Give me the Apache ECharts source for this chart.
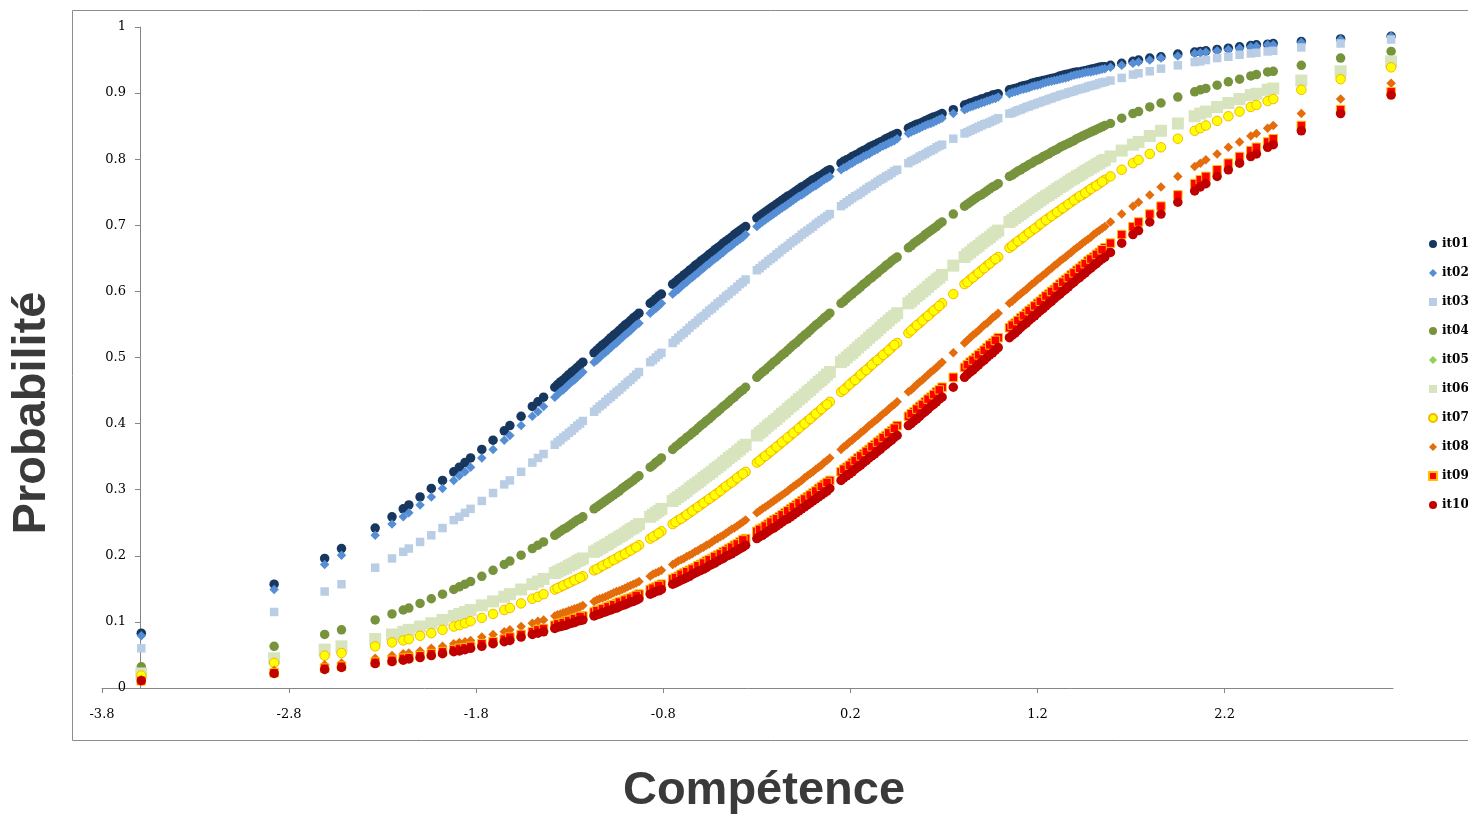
<!DOCTYPE html>
<html>
<head>
<meta charset="utf-8">
<title>Probabilité / Compétence</title>
<script src="https://cdn.jsdelivr.net/npm/echarts@6/dist/echarts.min.js"></script>
<style>
html,body{margin:0;padding:0;background:#ffffff;}
#chart{width:1468px;height:815px;}
</style>
</head>
<body>
<div id="chart"></div>
<script>
// ---- data ----
const competence = [
  -3.59,-2.88,-2.61,-2.52,-2.34,-2.25,-2.19,-2.16,-2.1,-2.04,-1.98,-1.92,-1.89,-1.86,-1.83,-1.77,-1.71,-1.65,-1.62,-1.56,-1.5,-1.47,
  -1.44,-1.38,-1.35,-1.32,-1.29,-1.26,-1.23,-1.17,-1.14,-1.11,-1.08,-1.05,-1.02,-0.99,-0.96,-0.93,-0.87,-0.84,-0.81,-0.75,
  -0.72,-0.69,-0.66,-0.63,-0.6,-0.57,-0.54,-0.51,-0.48,-0.45,-0.42,-0.39,-0.36,-0.3,-0.27,-0.24,-0.21,-0.18,-0.15,-0.12,
  -0.09,-0.06,-0.03,0,0.03,0.06,0.09,0.15,0.18,0.21,0.24,0.27,0.3,0.33,0.36,0.39,0.42,0.45,0.51,0.54,
  0.57,0.6,0.63,0.66,0.69,0.75,0.81,0.84,0.87,0.9,0.93,0.96,0.99,1.05,1.08,1.11,1.14,1.17,1.2,1.23,
  1.26,1.29,1.32,1.35,1.38,1.41,1.44,1.47,1.5,1.53,1.56,
  1.59,1.65,1.71,1.74,1.8,1.86,1.95,2.04,2.07,2.1,2.16,2.22,2.28,2.34,2.37,2.43,2.46,2.61,2.82,3.09
];

const it01 = [
  .083,.157,.196,.211,.242,.259,.271,.277,.289,.302,.314,.327,.334,.341,.348,.361,.375,.389,.397,.411,.426,.433,
  .440,.455,.463,.470,.478,.485,.493,.507,.515,.522,.530,.537,.545,.552,.560,.567,.582,.589,.596,.611,
  .618,.625,.632,.639,.646,.652,.659,.666,.673,.679,.686,.692,.698,.711,.717,.723,.729,.735,.741,.746,
  .752,.758,.763,.769,.774,.779,.784,.794,.799,.804,.808,.813,.818,.822,.826,.831,.835,.839,.847,.851,
  .854,.858,.862,.865,.869,.875,.882,.885,.888,.891,.894,.897,.899,.905,.907,.910,.912,.915,.917,.919,
  .921,.923,.926,.928,.930,.932,.933,.935,.937,.939,.940,
  .942,.945,.948,.950,.953,.955,.959,.962,.963,.964,.966,.968,.970,.972,.973,.974,.975,.978,.982,.986
];
const it02 = [
  .079,.149,.187,.201,.231,.248,.259,.265,.277,.289,.302,.314,.321,.327,.334,.348,.361,.375,.382,.397,.411,.418,
  .426,.440,.448,.455,.463,.470,.478,.493,.500,.507,.515,.522,.530,.537,.545,.552,.567,.574,.582,.596,
  .603,.611,.618,.625,.632,.639,.646,.652,.659,.666,.673,.679,.686,.698,.705,.711,.717,.723,.729,.735,
  .741,.746,.752,.758,.763,.769,.774,.784,.789,.794,.799,.804,.808,.813,.818,.822,.826,.831,.839,.843,
  .847,.851,.854,.858,.862,.869,.875,.879,.882,.885,.888,.891,.894,.899,.902,.905,.907,.910,.912,.915,
  .917,.919,.921,.923,.926,.928,.930,.932,.933,.935,.937,
  .939,.942,.945,.947,.950,.953,.956,.960,.961,.962,.964,.966,.968,.970,.971,.973,.973,.977,.981,.986
];
const it03 = [
  .060,.115,.146,.157,.182,.196,.206,.211,.221,.231,.242,.254,.259,.265,.271,.283,.295,.308,.314,.327,.341,.348,
  .354,.368,.375,.382,.389,.397,.404,.418,.426,.433,.440,.448,.455,.463,.470,.478,.493,.500,.507,.522,
  .530,.537,.545,.552,.560,.567,.574,.582,.589,.596,.603,.611,.618,.632,.639,.646,.652,.659,.666,.673,
  .679,.686,.692,.698,.705,.711,.717,.729,.735,.741,.746,.752,.758,.763,.769,.774,.779,.784,.794,.799,
  .804,.808,.813,.818,.822,.831,.839,.843,.847,.851,.854,.858,.862,.869,.872,.875,.879,.882,.885,.888,
  .891,.894,.897,.899,.902,.905,.907,.910,.912,.915,.917,
  .919,.923,.928,.930,.933,.937,.942,.947,.948,.950,.953,.955,.958,.960,.961,.963,.964,.969,.975,.981
];
const it04 = [
  .032,.063,.081,.088,.103,.112,.118,.121,.128,.135,.142,.149,.153,.157,.161,.169,.178,.187,.192,.201,.211,.216,
  .221,.231,.237,.242,.248,.254,.259,.271,.277,.283,.289,.295,.302,.308,.314,.321,.334,.341,.348,.361,
  .368,.375,.382,.389,.397,.404,.411,.418,.426,.433,.440,.448,.455,.470,.478,.485,.493,.500,.507,.515,
  .522,.530,.537,.545,.552,.560,.567,.582,.589,.596,.603,.611,.618,.625,.632,.639,.646,.652,.666,.673,
  .679,.686,.692,.698,.705,.717,.729,.735,.741,.746,.752,.758,.763,.774,.779,.784,.789,.794,.799,.804,
  .808,.813,.818,.822,.826,.831,.835,.839,.843,.847,.851,
  .854,.862,.869,.872,.879,.885,.894,.902,.905,.907,.912,.917,.921,.926,.928,.932,.933,.942,.953,.963
];
const it05 = [
  .022,.045,.058,.063,.074,.081,.085,.088,.093,.098,.103,.109,.112,.115,.118,.125,.131,.138,.142,.149,.157,.161,
  .165,.174,.178,.182,.187,.192,.196,.206,.211,.216,.221,.226,.231,.237,.242,.248,.259,.265,.271,.283,
  .289,.295,.302,.308,.314,.321,.327,.334,.341,.348,.354,.361,.368,.382,.389,.397,.404,.411,.418,.426,
  .433,.440,.448,.455,.463,.470,.478,.493,.500,.507,.515,.522,.530,.537,.545,.552,.560,.567,.582,.589,
  .596,.603,.611,.618,.625,.639,.652,.659,.666,.673,.679,.686,.692,.705,.711,.717,.723,.729,.735,.741,
  .746,.752,.758,.763,.769,.774,.779,.784,.789,.794,.799,
  .804,.813,.822,.826,.835,.843,.854,.865,.869,.872,.879,.885,.891,.897,.899,.905,.907,.919,.933,.948
];
const it06 = [
  .022,.045,.058,.063,.074,.081,.085,.088,.093,.098,.103,.109,.112,.115,.118,.125,.131,.138,.142,.149,.157,.161,
  .165,.174,.178,.182,.187,.192,.196,.206,.211,.216,.221,.226,.231,.237,.242,.248,.259,.265,.271,.283,
  .289,.295,.302,.308,.314,.321,.327,.334,.341,.348,.354,.361,.368,.382,.389,.397,.404,.411,.418,.426,
  .433,.440,.448,.455,.463,.470,.478,.493,.500,.507,.515,.522,.530,.537,.545,.552,.560,.567,.582,.589,
  .596,.603,.611,.618,.625,.639,.652,.659,.666,.673,.679,.686,.692,.705,.711,.717,.723,.729,.735,.741,
  .746,.752,.758,.763,.769,.774,.779,.784,.789,.794,.799,
  .804,.813,.822,.826,.835,.843,.854,.865,.869,.872,.879,.885,.891,.897,.899,.905,.907,.919,.933,.948
];
const it07 = [
  .019,.038,.049,.053,.063,.069,.072,.074,.079,.083,.088,.093,.095,.098,.101,.106,.112,.118,.121,.128,.135,.138,
  .142,.149,.153,.157,.161,.165,.169,.178,.182,.187,.192,.196,.201,.206,.211,.216,.226,.231,.237,.248,
  .254,.259,.265,.271,.277,.283,.289,.295,.302,.308,.314,.321,.327,.341,.348,.354,.361,.368,.375,.382,
  .389,.397,.404,.411,.418,.426,.433,.448,.455,.463,.470,.478,.485,.493,.500,.507,.515,.522,.537,.545,
  .552,.560,.567,.574,.582,.596,.611,.618,.625,.632,.639,.646,.652,.666,.673,.679,.686,.692,.698,.705,
  .711,.717,.723,.729,.735,.741,.746,.752,.758,.763,.769,
  .774,.784,.794,.799,.808,.818,.831,.843,.847,.851,.858,.865,.872,.879,.882,.888,.891,.905,.921,.939
];
const it08 = [
  .013,.027,.035,.038,.045,.049,.052,.053,.056,.060,.063,.067,.069,.070,.072,.077,.081,.085,.088,.093,.098,.101,
  .103,.109,.112,.115,.118,.121,.125,.131,.135,.138,.142,.146,.149,.153,.157,.161,.169,.174,.178,.187,
  .192,.196,.201,.206,.211,.216,.221,.226,.231,.237,.242,.248,.254,.265,.271,.277,.283,.289,.295,.302,
  .308,.314,.321,.327,.334,.341,.348,.361,.368,.375,.382,.389,.397,.404,.411,.418,.426,.433,.448,.455,
  .463,.470,.478,.485,.493,.507,.522,.530,.537,.545,.552,.560,.567,.582,.589,.596,.603,.611,.618,.625,
  .632,.639,.646,.652,.659,.666,.673,.679,.686,.692,.698,
  .705,.717,.729,.735,.746,.758,.774,.789,.794,.799,.808,.818,.826,.835,.839,.847,.851,.869,.891,.915
];
const it09 = [
  .011,.023,.030,.033,.039,.042,.045,.046,.049,.052,.055,.058,.060,.061,.063,.067,.070,.074,.077,.081,.085,.088,
  .090,.095,.098,.101,.103,.106,.109,.115,.118,.121,.125,.128,.131,.135,.138,.142,.149,.153,.157,.165,
  .169,.174,.178,.182,.187,.192,.196,.201,.206,.211,.216,.221,.226,.237,.242,.248,.254,.259,.265,.271,
  .277,.283,.289,.295,.302,.308,.314,.327,.334,.341,.348,.354,.361,.368,.375,.382,.389,.397,.411,.418,
  .426,.433,.440,.448,.455,.470,.485,.493,.500,.507,.515,.522,.530,.545,.552,.560,.567,.574,.582,.589,
  .596,.603,.611,.618,.625,.632,.639,.646,.652,.659,.666,
  .673,.686,.698,.705,.717,.729,.746,.763,.769,.774,.784,.794,.804,.813,.818,.826,.831,.851,.875,.902
];
const it10 = [
  .011,.022,.028,.031,.037,.040,.042,.044,.046,.049,.052,.055,.056,.058,.060,.063,.067,.070,.072,.077,.081,.083,
  .085,.090,.093,.095,.098,.101,.103,.109,.112,.115,.118,.121,.125,.128,.131,.135,.142,.146,.149,.157,
  .161,.165,.169,.174,.178,.182,.187,.192,.196,.201,.206,.211,.216,.226,.231,.237,.242,.248,.254,.259,
  .265,.271,.277,.283,.289,.295,.302,.314,.321,.327,.334,.341,.348,.354,.361,.368,.375,.382,.397,.404,
  .411,.418,.426,.433,.440,.455,.470,.478,.485,.493,.500,.507,.515,.530,.537,.545,.552,.560,.567,.574,
  .582,.589,.596,.603,.611,.618,.625,.632,.639,.646,.652,
  .659,.673,.686,.692,.705,.717,.735,.752,.758,.763,.774,.784,.794,.804,.808,.818,.822,.843,.869,.897
];

// second group of respondents (the densely packed middle of the sample)
const competenceMid = [
  -1.365,-1.335,-1.305,-1.275,-1.245,
  -1.155,-1.125,-1.095,-1.065,-1.035,-1.005,-0.975,-0.945,
  -0.855,-0.825,
  -0.735,-0.705,-0.675,-0.645,-0.615,-0.585,-0.555,-0.525,-0.495,-0.465,-0.435,-0.405,-0.375,
  -0.285,-0.255,-0.225,-0.195,-0.165,-0.135,-0.105,-0.075,-0.045,-0.015,0.015,0.045,0.075,
  0.165,0.195,0.225,0.255,0.285,0.315,0.345,0.375,0.405,0.435,
  0.525,0.555,0.585,0.615,0.645,0.675,
  0.825,0.855,0.885,0.915,0.945,0.975,
  1.065,1.095,1.125,1.155,1.185,1.215,1.245,1.275,1.305,1.335,1.365,1.395,1.425,1.455,1.485,1.515,1.545
];
const it01Mid = [
  .459,.466,.474,.481,.489,
  .511,.519,.526,.534,.541,.549,.556,.563,
  .585,.593,
  .614,.621,.628,.635,.642,.649,.656,.663,.669,.676,.682,.689,.695,
  .714,.720,.726,.732,.738,.744,.749,.755,.760,.766,.771,.776,.782,
  .797,.801,.806,.811,.815,.820,.824,.828,.833,.837,
  .849,.853,.856,.860,.864,.867,
  .883,.886,.889,.892,.895,.898,
  .906,.908,.911,.913,.916,.918,.920,.922,.924,.927,.929,.931,.932,.934,.936,.938,.940
];
const it02Mid = [
  .444,.451,.459,.466,.474,
  .496,.504,.511,.519,.526,.534,.541,.549,
  .571,.578,
  .600,.607,.614,.621,.628,.635,.642,.649,.656,.663,.669,.676,.682,
  .702,.708,.714,.720,.726,.732,.738,.744,.749,.755,.760,.766,.771,
  .787,.792,.797,.801,.806,.811,.815,.820,.824,.828,
  .841,.845,.849,.853,.856,.860,
  .877,.880,.883,.886,.889,.892,
  .901,.903,.906,.908,.911,.913,.916,.918,.920,.922,.924,.927,.929,.931,.932,.934,.936
];
const it03Mid = [
  .372,.379,.386,.393,.400,
  .422,.429,.437,.444,.451,.459,.466,.474,
  .496,.504,
  .526,.534,.541,.549,.556,.563,.571,.578,.585,.593,.600,.607,.614,
  .635,.642,.649,.656,.663,.669,.676,.682,.689,.695,.702,.708,.714,
  .732,.738,.744,.749,.755,.760,.766,.771,.776,.782,
  .797,.801,.806,.811,.815,.820,
  .841,.845,.849,.853,.856,.860,
  .870,.874,.877,.880,.883,.886,.889,.892,.895,.898,.901,.903,.906,.908,.911,.913,.916
];
const it04Mid = [
  .234,.240,.245,.251,.256,
  .274,.280,.286,.292,.298,.305,.311,.318,
  .337,.344,
  .365,.372,.379,.386,.393,.400,.407,.415,.422,.429,.437,.444,.451,
  .474,.481,.489,.496,.504,.511,.519,.526,.534,.541,.549,.556,.563,
  .585,.593,.600,.607,.614,.621,.628,.635,.642,.649,
  .669,.676,.682,.689,.695,.702,
  .732,.738,.744,.749,.755,.760,
  .776,.782,.787,.792,.797,.801,.806,.811,.815,.820,.824,.828,.833,.837,.841,.845,.849
];
const it05Mid = [
  .176,.180,.185,.189,.194,
  .208,.213,.218,.224,.229,.234,.240,.245,
  .262,.268,
  .286,.292,.298,.305,.311,.318,.324,.331,.337,.344,.351,.358,.365,
  .386,.393,.400,.407,.415,.422,.429,.437,.444,.451,.459,.466,.474,
  .496,.504,.511,.519,.526,.534,.541,.549,.556,.563,
  .585,.593,.600,.607,.614,.621,
  .656,.663,.669,.676,.682,.689,
  .708,.714,.720,.726,.732,.738,.744,.749,.755,.760,.766,.771,.776,.782,.787,.792,.797
];
const it06Mid = [
  .176,.180,.185,.189,.194,
  .208,.213,.218,.224,.229,.234,.240,.245,
  .262,.268,
  .286,.292,.298,.305,.311,.318,.324,.331,.337,.344,.351,.358,.365,
  .386,.393,.400,.407,.415,.422,.429,.437,.444,.451,.459,.466,.474,
  .496,.504,.511,.519,.526,.534,.541,.549,.556,.563,
  .585,.593,.600,.607,.614,.621,
  .656,.663,.669,.676,.682,.689,
  .708,.714,.720,.726,.732,.738,.744,.749,.755,.760,.766,.771,.776,.782,.787,.792,.797
];
const it07Mid = [
  .151,.155,.159,.163,.167,
  .180,.185,.189,.194,.199,.203,.208,.213,
  .229,.234,
  .251,.256,.262,.268,.274,.280,.286,.292,.298,.305,.311,.318,.324,
  .344,.351,.358,.365,.372,.379,.386,.393,.400,.407,.415,.422,.429,
  .451,.459,.466,.474,.481,.489,.496,.504,.511,.519,
  .541,.549,.556,.563,.571,.578,
  .614,.621,.628,.635,.642,.649,
  .669,.676,.682,.689,.695,.702,.708,.714,.720,.726,.732,.738,.744,.749,.755,.760,.766
];
const it08Mid = [
  .111,.114,.117,.120,.123,
  .133,.136,.140,.144,.147,.151,.155,.159,
  .172,.176,
  .189,.194,.199,.203,.208,.213,.218,.224,.229,.234,.240,.245,.251,
  .268,.274,.280,.286,.292,.298,.305,.311,.318,.324,.331,.337,.344,
  .365,.372,.379,.386,.393,.400,.407,.415,.422,.429,
  .451,.459,.466,.474,.481,.489,
  .526,.534,.541,.549,.556,.563,
  .585,.593,.600,.607,.614,.621,.628,.635,.642,.649,.656,.663,.669,.676,.682,.689,.695
];
const it09Mid = [
  .097,.099,.102,.105,.108,
  .117,.120,.123,.126,.130,.133,.136,.140,
  .151,.155,
  .167,.172,.176,.180,.185,.189,.194,.199,.203,.208,.213,.218,.224,
  .240,.245,.251,.256,.262,.268,.274,.280,.286,.292,.298,.305,.311,
  .331,.337,.344,.351,.358,.365,.372,.379,.386,.393,
  .415,.422,.429,.437,.444,.451,
  .489,.496,.504,.511,.519,.526,
  .549,.556,.563,.571,.578,.585,.593,.600,.607,.614,.621,.628,.635,.642,.649,.656,.663
];
const it10Mid = [
  .092,.094,.097,.099,.102,
  .111,.114,.117,.120,.123,.126,.130,.133,
  .144,.147,
  .159,.163,.167,.172,.176,.180,.185,.189,.194,.199,.203,.208,.213,
  .229,.234,.240,.245,.251,.256,.262,.268,.274,.280,.286,.292,.298,
  .318,.324,.331,.337,.344,.351,.358,.365,.372,.379,
  .400,.407,.415,.422,.429,.437,
  .474,.481,.489,.496,.504,.511,
  .534,.541,.549,.556,.563,.571,.578,.585,.593,.600,.607,.614,.621,.628,.635,.642,.649
];

const seriesNames = ['it01','it02','it03','it04','it05','it06','it07','it08','it09','it10'];
const xTickValues = [-3.8,-2.8,-1.8,-0.8,0.2,1.2,2.2];
const xTickLabels = ['-3.8','-2.8','-1.8','-0.8','0.2','1.2','2.2'];
const yTickLabels = ['0','0.1','0.2','0.3','0.4','0.5','0.6','0.7','0.8','0.9','1'];
const xTitle = 'Compétence';
const yTitle = 'Probabilité';

// ---- presentation ----
const valuesByName = {it01,it02,it03,it04,it05,it06,it07,it08,it09,it10};
const midByName = {it01:it01Mid,it02:it02Mid,it03:it03Mid,it04:it04Mid,it05:it05Mid,
                   it06:it06Mid,it07:it07Mid,it08:it08Mid,it09:it09Mid,it10:it10Mid};
const styleByName = {
  it01:{symbol:'circle',  size:9.5, color:'#17375E'},
  it02:{symbol:'diamond', size:9.5, color:'#558ED5'},
  it03:{symbol:'rect',    size:8.5, color:'#B9CDE5'},
  it04:{symbol:'circle',  size:9.5, color:'#77933C'},
  it05:{symbol:'diamond', size:9.5, color:'#92D050'},
  it06:{symbol:'rect',    size:12,  color:'#D7E4BD'},
  it07:{symbol:'circle',  size:9.5, color:'#FFFF00', border:'#F5B800'},
  it08:{symbol:'diamond', size:9.5, color:'#E46C0A'},
  it09:{symbol:'rect',    size:8.5, color:'#FF0000', border:'#FFC000'},
  it10:{symbol:'circle',  size:9.5, color:'#C00000'}
};

seriesNames.forEach(n => {
  if (valuesByName[n].length !== competence.length) console.error(n + ' length ' + valuesByName[n].length + ' vs ' + competence.length);
  if (midByName[n].length !== competenceMid.length) console.error(n + ' mid length ' + midByName[n].length + ' vs ' + competenceMid.length);
});

const serif = '"DejaVu Serif", "Liberation Serif", serif';
const axisGray = '#868686';

const series = seriesNames.map(n => {
  const st = styleByName[n];
  const pts = competence.map((x, i) => [x, valuesByName[n][i]])
    .concat(competenceMid.map((x, i) => [x, midByName[n][i]]));
  return {
    type: 'scatter',
    name: n,
    symbol: st.symbol,
    symbolSize: st.size,
    data: pts,
    itemStyle: {
      color: st.color,
      borderColor: st.border || st.color,
      borderWidth: st.border ? 1 : 0,
      opacity: 1
    },
    emphasis: {disabled: true},
    animation: false
  };
});

const chart = echarts.init(document.getElementById('chart'), null, {renderer: 'canvas'});
chart.setOption({
  backgroundColor: '#ffffff',
  animation: false,
  grid: {left: 102, right: 75, top: 27, bottom: 127, containLabel: false},
  xAxis: {
    type: 'value',
    min: -3.8,
    max: 3.1,
    splitLine: {show: false},
    axisLine: {show: true, onZero: false, lineStyle: {color: axisGray, width: 1}},
    axisTick: {show: true, length: 5, lineStyle: {color: axisGray}, customValues: xTickValues},
    axisLabel: {
      customValues: xTickValues,
      formatter: v => { const i = xTickValues.findIndex(t => Math.abs(t - v) < 1e-6); return i >= 0 ? xTickLabels[i] : ''; },
      fontFamily: serif, fontSize: 13, color: '#000', margin: 20
    }
  },
  yAxis: {
    type: 'value',
    min: 0,
    max: 1,
    interval: 0.1,
    offset: -38,
    splitLine: {show: false},
    axisLine: {show: true, onZero: false, lineStyle: {color: axisGray, width: 1}},
    axisTick: {show: true, length: 5, lineStyle: {color: axisGray}},
    axisLabel: {
      formatter: v => yTickLabels[Math.round(v * 10)] || '',
      fontFamily: serif, fontSize: 13, color: '#000', margin: 14
    }
  },
  legend: {
    orient: 'vertical',
    left: 1428,
    top: 238,
    padding: 0,
    itemWidth: 8,
    itemHeight: 8,
    itemGap: 17,
    data: seriesNames,
    textStyle: {fontFamily: serif, fontWeight: 'bold', fontSize: 12, color: '#000'},
    selectedMode: false
  },
  graphic: [
    {type: 'rect', silent: true, z: -10,
     shape: {x: 72.5, y: 10.5, width: 1420, height: 730},
     style: {fill: 'none', stroke: '#8c8c8c', lineWidth: 1}},
    {type: 'text', silent: true, x: 32, y: 413, rotation: Math.PI / 2,
     style: {text: yTitle, fontFamily: '"Liberation Sans", Arial, sans-serif', fontWeight: 'bold', fontSize: 47,
             fill: '#3a3a3a', align: 'center', verticalAlign: 'middle'}},
    {type: 'text', silent: true, x: 764, y: 791,
     style: {text: xTitle, fontFamily: '"Liberation Sans", Arial, sans-serif', fontWeight: 'bold', fontSize: 47,
             fill: '#3a3a3a', align: 'center', verticalAlign: 'middle'}}
  ],
  series: series
});
</script>
</body>
</html>
